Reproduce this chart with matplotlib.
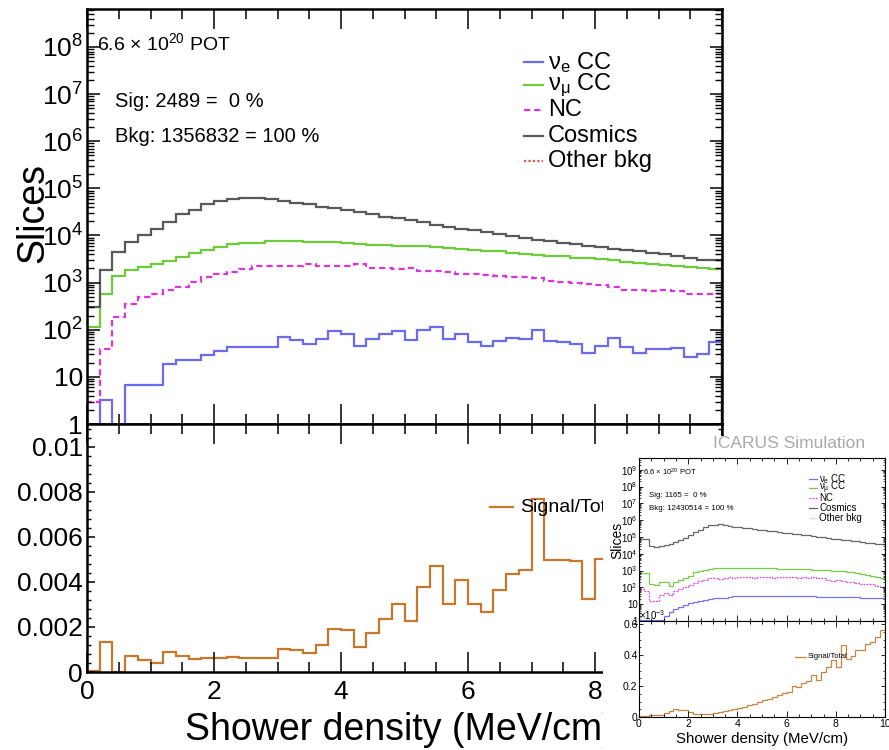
import numpy as np
import matplotlib
matplotlib.use("Agg")
import matplotlib.pyplot as plt
from matplotlib.ticker import (FixedLocator, FixedFormatter, MultipleLocator,
                               LogLocator, NullFormatter)

plt.rcParams['font.family'] = ['Liberation Sans', 'DejaVu Sans']
plt.rcParams['mathtext.fontset'] = 'custom'
plt.rcParams['mathtext.rm'] = 'Liberation Sans'
plt.rcParams['mathtext.it'] = 'Liberation Sans:italic'
plt.rcParams['mathtext.bf'] = 'Liberation Sans:bold'
plt.rcParams['mathtext.default'] = 'regular'

# ---- main plot data: 50 bins of 0.2 MeV/cm over 0-10 ----
bin_edges = np.arange(0, 10.01, 0.2)

nue_cc = [0, 3.2, 0, 6.6, 6.6, 6.6, 19, 22.6, 22.6, 29, 36, 43, 43, 43, 43, 69, 60, 50, 63, 92,
          81, 46, 63, 81, 92, 61, 98, 112, 65, 81, 54, 46, 59, 66, 63, 98, 59, 55, 51, 32,
          46, 66, 44, 32, 39, 39, 42, 26, 30, 54]
numu_cc = [115, 575, 1350, 1820, 2130, 2500, 2940, 3550, 4200, 4950, 5650, 6450, 6900, 7100, 7600,
           7600, 7800, 7400, 7200, 7200, 7100, 6600, 6400, 6300, 6000, 5950, 5900, 5700, 5500, 5250,
           5000, 4800, 4600, 4300, 4100, 3900, 3750, 3600, 3400, 3250, 3100, 2950, 2800, 2600, 2450,
           2350, 2300, 2150, 2050, 1950]
nc = [3, 39, 190, 350, 500, 575, 700, 820, 1020, 1340, 1530, 1660, 1960, 2200, 2300, 2300, 2200,
      2500, 2300, 2200, 2200, 2500, 2050, 2050, 1960, 2000, 1800, 1800, 1700, 1550, 1500, 1450,
      1380, 1330, 1300, 1250, 1100, 1050, 1000, 950, 870, 820, 700, 690, 680, 690, 660, 580, 570, 560]
cosmics = [300, 1860, 4570, 7200, 10000, 13800, 19000, 29000, 35000, 46000, 53000, 59000, 62000,
           62000, 60000, 55000, 50000, 47000, 41000, 37500, 34000, 31000, 28000, 25000, 23500, 21500,
           19000, 16600, 15100, 13800, 12900, 11700, 10700, 9800, 8900, 8100, 7600, 7100, 6600, 6000,
           5600, 5200, 4900, 4600, 4300, 4000, 3600, 3300, 3000, 2950]
# signal/total, only the bins not hidden by the inset
ratio = [0.00005, 0.00135, 0, 0.00071, 0.00053, 0.00039, 0.00087, 0.00073, 0.00058, 0.0006,
         0.00064, 0.00067, 0.00064, 0.00064, 0.00064, 0.00102, 0.00098, 0.00086, 0.00119, 0.0019,
         0.00187, 0.00112, 0.00175, 0.00236, 0.00302, 0.00227, 0.00375, 0.00472, 0.00301, 0.00406,
         0.00302, 0.00264, 0.00364, 0.00434, 0.00453, 0.00769, 0.00498, 0.00498, 0.00493, 0.00324,
         0.005]

legend_labels = [r'$\nu_e$ CC', r'$\nu_\mu$ CC', 'NC', 'Cosmics', 'Other bkg']
log_ticks = [1, 10, 1e2, 1e3, 1e4, 1e5, 1e6, 1e7, 1e8]
log_tick_labels = ['1', '10', '$10^{2}$', '$10^{3}$', '$10^{4}$', '$10^{5}$', '$10^{6}$',
                   '$10^{7}$', '$10^{8}$']
ratio_ticks = [0, 0.002, 0.004, 0.006, 0.008, 0.01]
ratio_tick_labels = ['0', '0.002', '0.004', '0.006', '0.008', '0.01']
pot_text = '6.6 × 10$^{20}$ POT'
sig_text = 'Sig: 2489 =  0 %'
bkg_text = 'Bkg: 1356832 = 100 %'

# ---- inset (second canvas pasted on top) ----
in_nue = [1.15, 1.15, 1.15, 1.15, 1.15, 2.0, 3.6, 5, 6.9, 9.1, 11.5, 13.8, 15.8, 18, 20, 22, 24,
          25, 27.5, 29, 30, 30, 30, 31, 31, 31, 32, 32, 31, 31, 32, 31, 31, 30, 30, 30, 28, 28,
          27.5, 28, 27, 27, 26.5, 27, 26, 24.5, 24, 24, 24, 24]
in_numu = [690, 690, 160, 138, 200, 200, 126, 219, 275, 363, 500, 794, 1000, 1100, 1260, 1445,
           1510, 1510, 1510, 1510, 1510, 1500, 1480, 1450, 1430, 1400, 1380, 1350, 1320, 1300,
           1270, 1250, 1220, 1200, 1170, 1150, 1120, 1090, 1050, 1000, 960, 912, 850, 780, 700,
           650, 580, 500, 430, 370]
in_nc = [79, 63, 14.5, 14.5, 36, 44, 36, 58, 79, 100, 138, 190, 250, 288, 347, 363, 331, 363, 398,
         347, 437, 398, 400, 380, 420, 390, 410, 370, 400, 430, 390, 410, 380, 400, 370, 390, 360,
         380, 260, 250, 270, 240, 210, 200, 190, 165, 155, 160, 126, 100]
in_cosmics = [80000, 75000, 28000, 27000, 29000, 33000, 40000, 50000, 63000, 91000, 126000,
              200000, 275000, 400000, 500000, 550000, 575000, 525000, 460000, 417000, 389000,
              355000, 331000, 302000, 275000, 257000, 234000, 219000, 200000, 182000, 170000,
              155000, 145000, 132000, 123000, 112000, 102000, 95000, 87000, 81000, 74000, 69000,
              63000, 59000, 54000, 50000, 46000, 43000, 39000, 36000]
in_ratio = [0.004, 0.009, 0.015, 0.011, 0.015, 0.026, 0.039, 0.052, 0.047, 0.047, 0.032, 0.022,
            0.019, 0.019, 0.019, 0.024, 0.030, 0.041, 0.047, 0.052, 0.058, 0.067, 0.077, 0.086,
            0.097, 0.108, 0.118, 0.129, 0.144, 0.155, 0.161, 0.198, 0.194, 0.219, 0.232, 0.269,
            0.237, 0.290, 0.323, 0.366, 0.323, 0.462, 0.376, 0.391, 0.430, 0.430, 0.469, 0.484,
            0.516, 0.563]
in_log_ticks = [1, 10, 1e2, 1e3, 1e4, 1e5, 1e6, 1e7, 1e8, 1e9]
in_log_tick_labels = ['1', '10', '$10^{2}$', '$10^{3}$', '$10^{4}$', '$10^{5}$', '$10^{6}$',
                      '$10^{7}$', '$10^{8}$', '$10^{9}$']
in_ratio_ticks = [0, 0.2, 0.4, 0.6]
in_ratio_tick_labels = ['0', '0.2', '0.4', '0.6']
in_sig_text = 'Sig: 1165 =  0 %'
in_bkg_text = 'Bkg: 12430514 = 100 %'

W, H = 889, 750


def rect(x0, y0, x1, y1):
    # pixel box (top-left origin) -> figure fraction
    return [x0 / W, 1 - y1 / H, (x1 - x0) / W, (y1 - y0) / H]


def frame(ax, lw):
    for s in ax.spines.values():
        s.set_linewidth(lw)


fig = plt.figure(figsize=(W / 100, H / 100), dpi=100)

main_colors = ['#6b6bef', '#6dcb3c', '#d936d9', '#595959', '#e8504a']
main_styles = ['-', '-', (0, (2.8, 1.8)), '-', (0, (1, 1))]

# ---------------- main top pane ----------------
ax_top = fig.add_axes(rect(87, 9, 722, 424))
for vals, c, ls in zip([nue_cc, numu_cc, nc, cosmics], main_colors, main_styles):
    ax_top.stairs(vals, bin_edges, color=c, lw=1.6, ls=ls)
ax_top.set_yscale('log', nonpositive='clip')
ax_top.set_xlim(0, 10)
ax_top.set_ylim(1, 6.4e8)
ax_top.xaxis.set_major_locator(MultipleLocator(2))
ax_top.xaxis.set_minor_locator(MultipleLocator(0.5))
ax_top.yaxis.set_major_locator(FixedLocator(log_ticks))
ax_top.yaxis.set_major_formatter(FixedFormatter(log_tick_labels))
ax_top.yaxis.set_minor_locator(LogLocator(base=10, subs=np.arange(2, 10), numticks=30))
ax_top.yaxis.set_minor_formatter(NullFormatter())
ax_top.tick_params(axis='x', which='major', direction='in', length=14.4, width=1.1,
                   top=True, labelbottom=False)
ax_top.tick_params(axis='x', which='minor', direction='in', length=7, width=1.1, top=True)
ax_top.tick_params(axis='y', which='major', direction='in', length=9, width=1.1, right=True,
                   labelsize=19, pad=3)
ax_top.tick_params(axis='y', which='minor', direction='in', length=5, width=1.0, right=True)
frame(ax_top, 1.8)

ax_top.text(0.0157, 0.918, pot_text, transform=ax_top.transAxes, fontsize=14, va='center')
ax_top.text(0.0441, 0.776, sig_text, transform=ax_top.transAxes, fontsize=14.5, va='center')
ax_top.text(0.0441, 0.692, bkg_text, transform=ax_top.transAxes, fontsize=14.5, va='center')
ax_top.text(-0.0693, 0.508, 'Slices', transform=ax_top.transAxes, fontsize=27, rotation=90,
            rotation_mode='anchor', ha='center', va='baseline')

leg_y = [0.872, 0.817, 0.757, 0.694, 0.634]
for lab, c, ls, y in zip(legend_labels, main_colors, main_styles, leg_y):
    ax_top.plot([0.688, 0.718], [y, y], transform=ax_top.transAxes, color=c, lw=1.6, ls=ls)
    ax_top.text(0.726, y, lab, transform=ax_top.transAxes, fontsize=17, va='center')

# ---------------- main ratio pane ----------------
ax_bot = fig.add_axes(rect(87, 424, 722, 672))
ax_bot.stairs(ratio, bin_edges[:len(ratio) + 1], color='#c8782d', lw=1.6)
ax_bot.set_xlim(0, 10)
ax_bot.set_ylim(0, 0.011)
ax_bot.xaxis.set_major_locator(MultipleLocator(2))
ax_bot.xaxis.set_minor_locator(MultipleLocator(0.5))
ax_bot.yaxis.set_major_locator(FixedLocator(ratio_ticks))
ax_bot.yaxis.set_major_formatter(FixedFormatter(ratio_tick_labels))
ax_bot.yaxis.set_minor_locator(MultipleLocator(0.0004))
ax_bot.tick_params(axis='x', which='major', direction='in', length=14.4, width=1.1, top=True,
                   labelsize=19, pad=6)
ax_bot.tick_params(axis='x', which='minor', direction='in', length=7, width=1.1, top=True)
ax_bot.tick_params(axis='y', which='major', direction='in', length=6, width=1.1, right=True,
                   labelsize=19, pad=3)
ax_bot.tick_params(axis='y', which='minor', direction='in', length=3, width=1.0, right=True)
frame(ax_bot, 1.8)
ax_bot.text(0.493, -0.274, 'Shower density (MeV/cm)', transform=ax_bot.transAxes, fontsize=27,
            ha='center', va='baseline')
ax_bot.plot([0.635, 0.671], [0.665, 0.665], transform=ax_bot.transAxes, color='#c8782d', lw=1.6)
ax_bot.text(0.682, 0.665, 'Signal/Total', transform=ax_bot.transAxes, fontsize=14, va='center')

# ---------------- inset picture ----------------
bg = fig.add_axes(rect(603, 436, 889, 750))
bg.set_facecolor('white')
bg.set_xticks([])
bg.set_yticks([])
for s in bg.spines.values():
    s.set_visible(False)
bg.text(0.916, 0.975, 'ICARUS Simulation', transform=bg.transAxes, fontsize=12.5,
        color='#a8a8a8', ha='right', va='center')

in_colors = ['#7373ee', '#77cc44', '#dd44dd', '#666666', '#f0b090']
in_styles = ['-', '-', (0, (1.5, 1)), '-', (0, (1, 1))]

ix_top = fig.add_axes(rect(639, 458, 885, 621))
for vals, c, ls in zip([in_nue, in_numu, in_nc, in_cosmics], in_colors, in_styles):
    ix_top.stairs(vals, bin_edges, color=c, lw=0.9, ls=ls)
ix_top.set_yscale('log', nonpositive='clip')
ix_top.set_xlim(0, 10)
ix_top.set_ylim(1, 5e9)
ix_top.xaxis.set_major_locator(MultipleLocator(2))
ix_top.xaxis.set_minor_locator(MultipleLocator(0.5))
ix_top.yaxis.set_major_locator(FixedLocator(in_log_ticks))
ix_top.yaxis.set_major_formatter(FixedFormatter(in_log_tick_labels))
ix_top.yaxis.set_minor_locator(LogLocator(base=10, subs=np.arange(2, 10), numticks=30))
ix_top.yaxis.set_minor_formatter(NullFormatter())
ix_top.tick_params(axis='x', which='major', direction='in', length=4, width=0.6, top=True,
                   labelbottom=False)
ix_top.tick_params(axis='x', which='minor', direction='in', length=2, width=0.6, top=True)
ix_top.tick_params(axis='y', which='major', direction='in', length=3, width=0.6, right=True,
                   labelsize=7, pad=1)
ix_top.tick_params(axis='y', which='minor', direction='in', length=1.5, width=0.5, right=True)
frame(ix_top, 0.8)
ix_top.text(0.016, 0.914, pot_text, transform=ix_top.transAxes, fontsize=5.5, va='center')
ix_top.text(0.041, 0.773, in_sig_text, transform=ix_top.transAxes, fontsize=5.7, va='center')
ix_top.text(0.041, 0.693, in_bkg_text, transform=ix_top.transAxes, fontsize=5.7, va='center')
ix_top.text(-0.070, 0.497, 'Slices', transform=ix_top.transAxes, fontsize=10, rotation=90,
            rotation_mode='anchor', ha='center', va='baseline')
for lab, c, ls, y in zip(legend_labels, in_colors, in_styles, leg_y):
    ix_top.plot([0.691, 0.724], [y, y], transform=ix_top.transAxes, color=c, lw=0.9, ls=ls)
    ix_top.text(0.732, y, lab, transform=ix_top.transAxes, fontsize=7, va='center')

ix_bot = fig.add_axes(rect(639, 621, 885, 717))
ix_bot.stairs(in_ratio, bin_edges, color='#c8843f', lw=0.9)
ix_bot.set_xlim(0, 10)
ix_bot.set_ylim(0, 0.62)
ix_bot.xaxis.set_major_locator(MultipleLocator(2))
ix_bot.xaxis.set_minor_locator(MultipleLocator(0.5))
ix_bot.yaxis.set_major_locator(FixedLocator(in_ratio_ticks))
ix_bot.yaxis.set_major_formatter(FixedFormatter(in_ratio_tick_labels))
ix_bot.yaxis.set_minor_locator(MultipleLocator(0.05))
ix_bot.tick_params(axis='x', which='major', direction='in', length=4, width=0.6, top=True,
                   labelsize=7.5, pad=1.5)
ix_bot.tick_params(axis='x', which='minor', direction='in', length=2, width=0.6, top=True)
ix_bot.tick_params(axis='y', which='major', direction='in', length=3, width=0.6, right=True,
                   labelsize=7.5, pad=1)
ix_bot.tick_params(axis='y', which='minor', direction='in', length=1.5, width=0.5, right=True)
frame(ix_bot, 0.8)
ix_bot.text(0.0, 1.0625, '×10$^{-3}$', transform=ix_bot.transAxes, fontsize=7, va='center')
ix_bot.text(0.502, -0.27, 'Shower density (MeV/cm)', transform=ix_bot.transAxes,
            fontsize=10.8, ha='center', va='baseline')
ix_bot.plot([0.634, 0.679], [0.625, 0.625], transform=ix_bot.transAxes, color='#c8843f', lw=0.9)
ix_bot.text(0.687, 0.625, 'Signal/Total', transform=ix_bot.transAxes, fontsize=5.5, va='center')

fig.savefig('out.png', dpi=100)
